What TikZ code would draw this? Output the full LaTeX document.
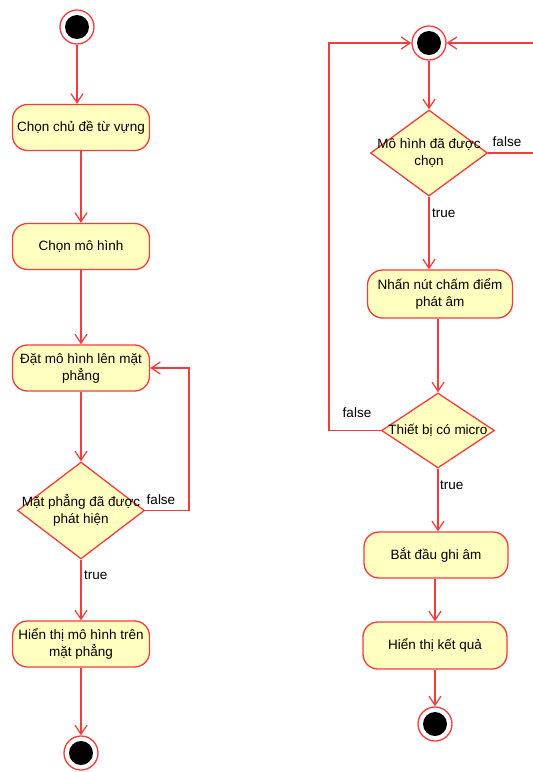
\documentclass[tikz,border=0pt]{standalone}
\usepackage{fontspec}
\setmainfont{Liberation Sans}
\usetikzlibrary{shapes.geometric,arrows.meta}
\definecolor{umlred}{RGB}{245,60,60}
\definecolor{umlfill}{RGB}{255,255,192}
\begin{document}
\begin{tikzpicture}[x=1pt,y=-1pt,
  font=\fontsize{13.5}{17}\selectfont,
  flow/.style={draw=umlred, line width=1.3pt, -{Straight Barb[length=9pt,width=12pt]}},
  act/.style={rectangle, rounded corners=15pt, draw=umlred, fill=umlfill, line width=1.3pt,
    minimum width=137pt, minimum height=46pt, align=center, inner sep=2pt},
  dec/.style={diamond, draw=umlred, fill=umlfill, line width=1.3pt, inner sep=0pt},
  dot/.style={circle, draw=umlred, fill=white, line width=1.3pt, minimum size=34pt, inner sep=0pt,
    path picture={\fill[black] (path picture bounding box.center) circle[radius=12pt];}},
  guard/.style={inner sep=1pt}
]
\useasboundingbox (0,0) rectangle (533,772);
\clip (0,0) rectangle (533,772);

% ---------- left activity: placing a model ----------
\node[dot] (s1) at (77,27) {};
\node[act] (a1) at (81,127.5) {Chọn chủ đề từ vựng};
\node[act] (a2) at (81,246.5) {Chọn mô hình};
\node[act] (a3) at (81,368) {Đặt mô hình lên mặt\\phẳng};
\node[dec, minimum width=127pt, minimum height=97pt,
  label={[align=center]center:Mặt phẳng đã được\\phát hiện}] (d1) at (81,510.5) {};
\node[act] (a4) at (81,644) {Hiển thị mô hình trên\\mặt phẳng};
\node[dot] (e1) at (81,753) {};

\draw[flow] (s1) -- (s1 |- a1.north);
\draw[flow] (a1) -- (a2);
\draw[flow] (a2) -- (a3);
\draw[flow] (a3) -- (d1);
\draw[flow] (d1) -- (a4);
\draw[flow] (a4) -- (e1);
\coordinate (lr) at (189,368);
\draw[flow] (d1.east) -| (lr) -- (a3.east);
\node[guard] (f1) at (161,500) {false};
\node[guard, anchor=west] (t1) at (83,575) {true};

% ---------- right activity: pronunciation scoring ----------
\node[dot] (s2) at (429,43) {};
\node[dec, minimum width=117pt, minimum height=86pt,
  label={[align=center]center:Mô hình đã được\\chọn}] (d2) at (429,153) {};
\node[act, minimum width=145pt, minimum height=48pt] (a5) at (440,294) {Nhấn nút chấm điểm\\phát âm};
\node[dec, minimum width=113pt, minimum height=75pt,
  label={center:Thiết bị có micro}] (d3) at (438,430.5) {};
\node[act, minimum width=144pt] (a6) at (436,555) {Bắt đầu ghi âm};
\node[act, minimum width=144pt, minimum height=47pt] (a7) at (435,645.5) {Hiển thị kết quả};
\node[dot] (e2) at (435,724) {};

\draw[flow] (s2) -- (d2);
\draw[flow] (d2.south) -- (d2.south |- a5.north);
\draw[flow] (d3.north |- a5.south) -- (d3.north);
\draw[flow] (d3.south) -- (d3.south |- a6.north);
\draw[flow] (a6.south -| a7.north) -- (a7.north);
\draw[flow] (a7) -- (e2);
\coordinate (rr) at (545,43);
\draw[flow] (d2.east) -| (rr) -- (s2.east);
\coordinate (ll) at (329,43);
\draw[flow] (d3.west) -| (ll) -- (s2.west);
\node[guard] (f2) at (507,142) {false};
\node[guard, anchor=west] (t2) at (431,213) {true};
\node[guard] (f3) at (357,413) {false};
\node[guard, anchor=west] (t3) at (439,485) {true};
\end{tikzpicture}
\end{document}
